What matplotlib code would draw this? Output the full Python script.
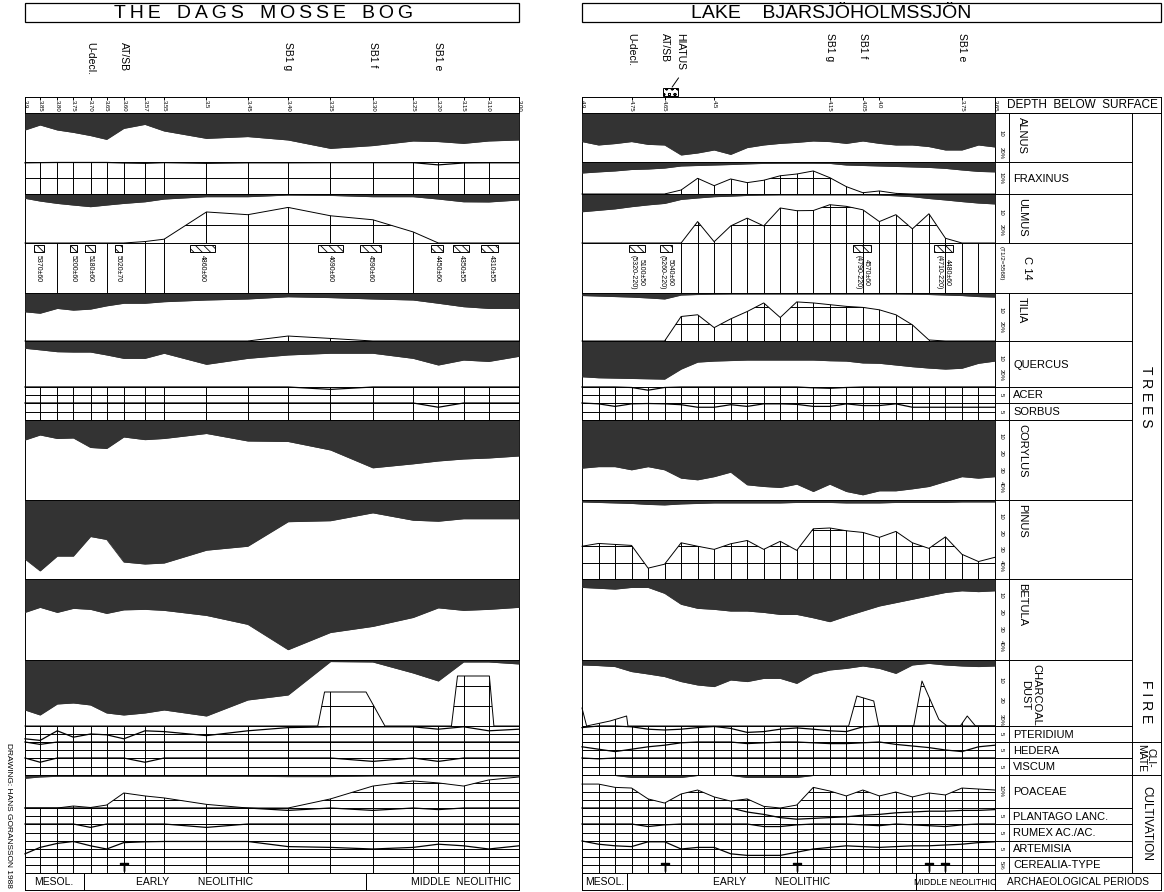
import numpy as np
import matplotlib
matplotlib.use('Agg')
import matplotlib.pyplot as plt
from matplotlib.patches import Rectangle, Polygon

plt.rcParams['font.family'] = ['Liberation Sans', 'DejaVu Sans']
plt.rcParams['hatch.linewidth'] = 0.6

# ---------------- Dags Mosse bog (left) ----------------
dm_depth = [3.90, 3.85, 3.80, 3.75, 3.70, 3.65, 3.60, 3.57, 3.55, 3.50,
            3.45, 3.40, 3.35, 3.30, 3.25, 3.20, 3.15, 3.10, 3.00]
dm_ticklabels = ['3.9', '3.85', '3.80', '3.75', '3.70', '3.65', '3.60', '3.57', '3.55', '3.5',
                 '3.45', '3.40', '3.35', '3.30', '3.25', '3.20', '3.15', '3.10', '3.00']
dm_alnus = [8.5, 6.0, 8.5, 9.7, 11.3, 13.2, 7.7, 5.7, 9.0, 12.7, 11.8, 13.5, 17.7, 16.3, 14.0, 14.3, 15.2, 14.0, 13.5]
dm_fraxinus = [0.5, 0.4, 0.3, 0.3, 0.3, 0.3, 0.6, 0.8, 0.4, 0.8, 0.5, 0.5, 0.4, 0.4, 0.4, 1.8, 0.6, 0.5, 0.5]
dm_ulmus = [2.4, 3.9, 5.2, 6.1, 7.0, 6.1, 5.2, 4.3, 2.8, 1.5, 1.5, 0.6, 0.8, 1.5, 1.5, 2.8, 4.3, 4.4, 3.3]
dm_ulmus_ex = [0, 0, 0, 0, 0, 0, 0, 0.8, 2.1, 17.1, 15.6, 19.6, 15.0, 12.8, 6.1, 0, 0, 0, 0]
dm_tilia = [11.0, 11.8, 9.0, 10.0, 9.4, 7.5, 6.0, 6.0, 5.1, 4.1, 3.5, 2.2, 2.7, 3.5, 4.1, 6.0, 8.0, 9.0, 9.0]
dm_tilia_ex = [0, 0, 0, 0, 0, 0, 0, 0, 0, 0, 0, 2.9, 1.5, 0, 0, 0, 0, 0, 0]
dm_quercus = [4.3, 5.2, 6.3, 6.5, 6.5, 8.2, 10.2, 10.2, 7.2, 13.7, 10.2, 8.2, 7.2, 7.2, 10.2, 14.1, 11.2, 12.0, 9.0]
dm_acer = [0, 0, 0, 0, 0, 0, 0, 0, 0, 0, 0, 0, 1.5, 0, 0, 0, 0, 0, 0]
dm_sorbus = [0, 0, 0, 0, 0, 0, 0, 0, 0, 0, 0, 0, 0, 0, 0, 2.5, 0, 0, 0]
dm_corylus = [12.0, 9.0, 11.1, 10.8, 16.5, 17.1, 10.2, 11.8, 11.1, 8.1, 12.6, 12.9, 18.0, 28.7, 26.3, 24.6, 23.4, 22.8, 21.6]
dm_pinus = [35.9, 43.1, 34.1, 34.1, 22.2, 24.0, 37.7, 38.9, 38.3, 30.5, 28.1, 13.2, 12.6, 7.8, 12.3, 12.9, 11.4, 11.4, 11.4]
dm_betula = [19.8, 16.8, 19.8, 17.4, 18.0, 20.4, 18.3, 18.0, 18.6, 21.6, 26.9, 41.9, 31.7, 28.1, 22.8, 17.1, 18.6, 18.0, 16.8]
dm_charcoal = [25, 27.5, 22, 21.5, 22.5, 26.5, 27.5, 26.5, 25, 28, 20, 17.5, 0.8, 1.0, 6.5, 10.5, 1.0, 1.0, 2.0]
dm_charcoal_ex_depth = [3.9, 3.365, 3.357, 3.308, 3.285, 3.174, 3.162, 3.098, 3.083, 3.0]
dm_charcoal_ex = [0, 0, 17, 17, 0, 0, 25, 25, 0, 0]
dm_pteridium = [8, 9, 3, 7, 5, 5.5, 8, 3, 3.5, 6, 3, 1, 0.5, 0.5, 0.5, 2, 0.5, 3, 2]
dm_hedera = [0, 1.5, 0, 0, 0, 0, 0, 0, 0, 0, 0, 0, 0, 0, 0, 0, 0, 0, 0]
dm_viscum = [0, 2.5, 0, 0, 0, 0, 0, 2.5, 0, 0, 0, 0, 0, 2.0, 0, 2.0, 0, 0, 0]
dm_poaceae = [2.0, 1.2, 0.8, 0.8, 0.8, 0.8, 0.8, 0.8, 0.8, 0.8, 0.8, 1.0, 1.0, 0.6, 0.6, 0.6, 0.6, 0.6, 0.6]
dm_poaceae_ex = [0, 0, 0, 1.2, 0.3, 1.8, 9.1, 7.3, 6.1, 2.2, 0, 0, 5.5, 13.3, 16.4, 15.2, 13.3, 17.0, 18.8]
dm_plantago = [0, 0, 0, 0, 0, 0, 0, 0, 0, 0, 0, 1.5, 0, 1.5, 0, 1.0, 0, 0, 0]
dm_rumex = [0, 0, 0, 0, 2, 0, 0, 0, 0, 2, 0, 0, 0, 0, 0, 0, 0, 0, 0]
dm_artemisia = [8, 4, 1.5, 0.3, 3, 5, 1, 0.5, 0.3, 0.3, 0.3, 3.5, 4, 5, 4, 2, 3, 5, 3]
dm_cerealia = [0, 0, 0, 0, 0, 0, 1, 0, 0, 0, 0, 0, 0, 0, 0, 0, 0, 0, 0]
dm_c14_lines = [3.80, 3.65, 3.57, 3.55, 3.45, 3.40, 3.25]
dm_c14 = [(3.87, 3.84, '5370±60'), (3.76, 3.74, '5200±60'), (3.715, 3.685, '5180±60'),
          (3.625, 3.605, '5020±70'), (3.52, 3.49, '4860±60'), (3.365, 3.335, '4690±60'),
          (3.315, 3.29, '4590±60'), (3.215, 3.19, '4450±60'), (3.17, 3.14, '4350±55'),
          (3.115, 3.07, '4310±55')]
dm_index = [('U-decl.', 3.70), ('AT/SB', 3.60), ('SB1 g', 3.40), ('SB1 f', 3.30), ('SB1 e', 3.20)]
dm_periods = [('MESOL.', 3.9, 3.72), ('EARLY          NEOLITHIC', 3.72, 3.308),
              ('MIDDLE  NEOLITHIC', 3.308, 3.0)]

# ---------------- Lake Bjärsjöholmssjön (right) ----------------
bj_depth = [4.90, 4.85, 4.80, 4.75, 4.70, 4.65, 4.60, 4.55, 4.50, 4.45, 4.40, 4.35, 4.30,
            4.25, 4.20, 4.15, 4.10, 4.05, 4.00, 3.95, 3.90, 3.85, 3.80, 3.75, 3.70, 3.65]
bj_ticks = [4.9, 4.75, 4.65, 4.5, 4.15, 4.05, 4.0, 3.75, 3.65]
bj_ticklabels = ['4.9', '4.75', '4.65', '4.5', '4.15', '4.05', '4.0', '3.75', '3.65']
bj_alnus = [14.3, 16, 15.3, 14.3, 15.7, 16, 21, 20, 18.5, 20.7, 17.3, 16, 15.2, 14.7, 14, 14.3,
            15.2, 14, 15.2, 16, 16, 16.8, 18.5, 18.5, 16, 17]
bj_fraxinus = [6.9, 6.2, 5.6, 4.7, 4.4, 3.8, 2.5, 2.2, 1.9, 1.6, 1.2, 0.9, 0.8, 0.8, 0.8, 0.9,
               1.9, 2.2, 2.5, 2.8, 3.1, 3.4, 4.0, 5.0, 5.9, 6.2]
bj_fraxinus_ex = [0, 0, 0, 0, 0, 0, 2.5, 9.8, 5.2, 9.4, 7.1, 8.6, 11.4, 12.5, 14.4, 10.2,
                  4.6, 0.8, 1.9, 0.4, 0, 0, 0, 0, 0, 0]
bj_ulmus = [9.8, 9, 8.2, 7, 6, 5.2, 3, 2.2, 1.5, 1.2, 0.8, 0.6, 0.5, 0.5, 0.5, 0.5, 0.5, 0.5,
            0.6, 1, 1.5, 2.5, 3.3, 4.2, 5, 5.5]
bj_ulmus_ex = [0, 0, 0, 0, 0, 0, 0, 11.8, 0.7, 9.4, 13.7, 9.4, 19.3, 17.8, 17.9, 21.1, 20.2,
               18.3, 11.8, 15.6, 7.8, 16.1, 2.6, 0, 0, 0]
bj_tilia = [1.5, 1.8, 2.1, 2.4, 2.9, 3.5, 1.2, 0.9, 0.7, 0.6, 0.6, 0.6, 0.6, 0.6, 0.6, 0.6,
            0.6, 0.6, 0.6, 0.6, 0.7, 0.9, 1.2, 1.5, 2.1, 2.4]
bj_tilia_ex = [0, 0, 0, 0, 0, 0, 14.3, 15.3, 7.8, 12.9, 17.2, 22.2, 13.7, 22.8, 22.2, 21.2,
               20.2, 19.6, 18.2, 15.3, 9.4, 0.6, 0, 0, 0, 0]
bj_quercus = [21, 21.6, 21.8, 22, 22.2, 22.4, 16.5, 12.4, 11.8, 11.5, 11.2, 11.2, 11.2, 11.2,
              11.2, 11.6, 11.8, 12.9, 13.1, 14.1, 15.1, 15.9, 16.5, 16, 13.1, 11.8]
bj_acer = [0, 0, 0, 0.3, 2, 0.3, 0, 0, 0, 0, 0, 0, 0, 0, 0.5, 0.8, 0.3, 0, 0, 0, 0, 0, 0, 0, 0, 0]
bj_sorbus = [0, 0.5, 2, 0.5, 0.3, 0.5, 1, 2.5, 2.5, 1, 2, 0.5, 0.5, 0.8, 2, 2, 0.5, 1.5, 1.5,
             0.5, 2.5, 2.5, 2.5, 2.5, 2.5, 2.5]
bj_corylus = [28.9, 28, 28, 29.9, 28, 29.9, 34.9, 35.9, 34, 31.3, 38.9, 39.9, 40.5, 38.5, 42.9,
              38.5, 42.9, 44.9, 42.5, 42.5, 41.3, 39.9, 36.9, 34, 34.9, 34]
bj_pinus = [1.2, 1.5, 1.8, 2.1, 2.7, 3, 2.4, 2.1, 1.8, 1.8, 1.8, 1.8, 1.8, 1.5, 1.5, 1.5, 1.8,
            1.8, 1.8, 1.5, 1.5, 1.5, 1.5, 1.2, 1.2, 1.2]
bj_pinus_ex = [19.9, 21.6, 21, 20.4, 6.6, 9, 22, 19.9, 18, 21.4, 23.4, 18, 22.9, 17.4, 30.5, 31,
               29.3, 28.3, 25.3, 28.9, 22, 18.6, 25.6, 15, 10.6, 13.2]
bj_betula = [5, 5.5, 6, 5, 5, 8.5, 15, 17.4, 18, 19, 19, 19.8, 21, 21, 23, 25.3, 22, 19, 16, 14,
             12, 10, 8, 7, 7.5, 7]
bj_charcoal = [2.5, 2.8, 3.3, 5.8, 7, 8.3, 10.8, 12.5, 13.3, 10, 10.8, 9.2, 9.2, 11.7, 7, 5, 4.2,
               3, 4.2, 6.7, 2.5, 1.7, 2.5, 3, 3.3, 3]
bj_charcoal_ex_depth = [4.9, 4.886, 4.815, 4.765, 4.761, 4.093, 4.068, 4.017, 4.002, 3.896,
                        3.871, 3.820, 3.795, 3.755, 3.734, 3.709, 3.65]
bj_charcoal_ex = [9, 0, 2.5, 5, 0, 0, 15, 12.5, 0, 0, 22.5, 3.3, 0, 0, 5, 0, 0]
bj_pteridium = [1, 0, 0, 0.5, 2, 2.5, 2, 1, 0.3, 1.5, 4, 3.5, 2, 1.2, 2, 3, 3.5, 0.5, 0, 0, 0,
                0, 0, 0, 0, 0]
bj_hedera = [3, 4.5, 6, 4.5, 3, 2, 0.5, 0, 0, 0, 1, 0.5, 0, 0, 0.5, 1, 1, 0.5, 0, 1.5, 2.5, 3.5,
             5, 6, 3, 2]
bj_viscum = [0, 0.5, 0, 0, 0, 0, 0, 0, 0, 0, 0, 0, 0, 0, 0, 0, 0, 0, 0, 0, 0, 0, 0, 0, 0, 0]
bj_poaceae = [0.3, 0.3, 0.3, 1.5, 1.5, 1.5, 1.5, 0.3, 0.3, 0.3, 1.5, 1.5, 1.5, 1.5, 0.3, 0.3,
              0.3, 0.3, 0.3, 0.3, 0.3, 0.3, 0.3, 0.3, 0.3, 0.3]
bj_poaceae_ex = [14.5, 14.5, 12.5, 12.1, 5.5, 3, 8.5, 10.9, 6.7, 4.2, 5.5, 1, 0, 1.8, 12.5, 10.3,
                 7.3, 10.9, 7.3, 9.7, 6.7, 9.1, 7.9, 12.1, 11.5, 10.9]
bj_plantago = [0, 0, 0, 0, 0, 0, 0, 0, 0, 0, 2.5, 4, 6, 7, 6.5, 6, 5.5, 4.5, 4, 3, 2.5, 2, 2,
               1.5, 1.5, 1]
bj_rumex = [0, 0, 0, 0, 1.5, 0.5, 0, 0, 0, 0, 0, 1.5, 1.5, 0.5, 0, 0, 0, 0.5, 1, 0, 0.5, 1, 1.5,
            0.5, 0, 0]
bj_artemisia = [0, 2, 3, 3.5, 0.5, 0.5, 5, 4, 4, 8, 9, 9, 9, 7, 5, 4, 3, 3.5, 4, 3.5, 3, 3, 2.5,
                2, 1, 0.5]
bj_cerealia = [0, 0, 0, 0, 0, 1, 0, 0, 0, 0, 0, 0, 0, 1, 0, 0, 0, 0, 0, 0, 0, 1, 1, 0, 0, 0]
bj_c14_lines = bj_depth[6:25]
bj_c14 = [(4.758, 4.709, '5100±50\n(5320-220)'), (4.664, 4.627, '5040±60\n(5260-220)'),
          (4.079, 4.024, '4570±60\n(4790-220)'), (3.836, 3.776, '4480±60\n(4710-220)')]
bj_index = [('U-decl.', 4.75), ('AT/SB', 4.65), ('SB1 g', 4.15), ('SB1 f', 4.05), ('SB1 e', 3.75)]
bj_periods = [('MESOL.', 4.9, 4.764), ('EARLY          NEOLITHIC', 4.764, 3.888),
              ('MIDDLE NEOLITHIC', 3.888, 3.65)]

# ---------------- figure ----------------
W, H = 1164, 892
fig = plt.figure(figsize=(W / 100, H / 100), dpi=100)
INK = '#333333'
LW = 0.7

ov = fig.add_axes([0, 0, 1, 1])
ov.set_xlim(0, W)
ov.set_ylim(H, 0)
ov.set_axis_off()

# the Dags Mosse axis is drawn with uneven spacing between samples
dm_axis_px = np.array([27, 42, 59, 75, 92, 108, 125, 146, 165, 207, 248, 288, 330, 372, 412,
                       437, 462, 487, 517], float)
dm_d = np.asarray(dm_depth, float)


def dm_fwd(d):
    # increasing with depth, so that an inverted xlim puts 3.9 on the left
    return -np.interp(d, dm_d[::-1], dm_axis_px[::-1])


def dm_inv(u):
    return np.interp(-np.asarray(u, float), dm_axis_px, dm_d)


PANEL_X = {'dm': (25, 519), 'bj': (582, 995)}


def depth_axes(panel, y0, y1):
    x0, x1 = PANEL_X[panel]
    ax = fig.add_axes([x0 / W, 1 - y1 / H, (x1 - x0) / W, (y1 - y0) / H])
    if panel == 'dm':
        ax.set_xscale('function', functions=(dm_fwd, dm_inv))
        ax.set_xlim(3.9, 3.0)
    else:
        ax.set_xlim(4.9, 3.65)
    ax.set_axis_off()
    return ax


ROWS = [('alnus', 113, 162, 24.5), ('fraxinus', 162, 194, 20), ('ulmus', 194, 243, 27),
        ('c14', 243, 293, 50), ('tilia', 293, 341, 28), ('quercus', 341, 387, 27),
        ('acer', 387, 403, 10), ('sorbus', 403, 420, 10), ('corylus', 420, 500, 48),
        ('pinus', 500, 579, 48), ('betula', 579, 660, 48), ('charcoal', 660, 726, 33),
        ('pteridium', 726, 742, 10), ('hedera', 742, 758, 10), ('viscum', 758, 775, 10),
        ('poaceae', 775, 808, 20), ('plantago', 808, 824, 10), ('rumex', 824, 841, 10),
        ('artemisia', 841, 857, 10), ('cerealia', 857, 873, 10)]
THIN = {'acer', 'sorbus', 'pteridium', 'hedera', 'viscum', 'plantago', 'rumex', 'artemisia', 'cerealia'}
GRID = {'fraxinus': [10], 'ulmus': [10, 20], 'tilia': [10, 20], 'pinus': [10, 20, 30],
        'charcoal': [10, 20], 'poaceae': [5, 10, 15]}

panels = {
    'dm': dict(depth=dm_depth, alnus=dm_alnus, fraxinus=dm_fraxinus, ulmus=dm_ulmus,
               ulmus_ex=dm_ulmus_ex, tilia=dm_tilia, tilia_ex=dm_tilia_ex, quercus=dm_quercus,
               acer=dm_acer, sorbus=dm_sorbus, corylus=dm_corylus, pinus=dm_pinus,
               betula=dm_betula, charcoal=dm_charcoal, charcoal_ex=dm_charcoal_ex,
               charcoal_ex_depth=dm_charcoal_ex_depth,
               pteridium=dm_pteridium, hedera=dm_hedera, viscum=dm_viscum, poaceae=dm_poaceae,
               poaceae_ex=dm_poaceae_ex, plantago=dm_plantago, rumex=dm_rumex,
               artemisia=dm_artemisia, cerealia=dm_cerealia, c14=dm_c14, c14_lines=dm_c14_lines,
               grid_rows=THIN | {'fraxinus'}),
    'bj': dict(depth=bj_depth, alnus=bj_alnus, fraxinus=bj_fraxinus, fraxinus_ex=bj_fraxinus_ex,
               ulmus=bj_ulmus, ulmus_ex=bj_ulmus_ex, tilia=bj_tilia, tilia_ex=bj_tilia_ex,
               quercus=bj_quercus, acer=bj_acer, sorbus=bj_sorbus, corylus=bj_corylus,
               pinus=bj_pinus, pinus_ex=bj_pinus_ex, betula=bj_betula, charcoal=bj_charcoal,
               charcoal_ex=bj_charcoal_ex, charcoal_ex_depth=bj_charcoal_ex_depth,
               pteridium=bj_pteridium, hedera=bj_hedera,
               viscum=bj_viscum, poaceae=bj_poaceae, poaceae_ex=bj_poaceae_ex,
               plantago=bj_plantago, rumex=bj_rumex, artemisia=bj_artemisia,
               cerealia=bj_cerealia, c14=bj_c14, c14_lines=bj_c14_lines, grid_rows=THIN),
}


def fill_row(ax, x, v, pmax, ex=None, xe=None, grid=()):
    ax.set_ylim(pmax, 0)
    ax.fill_between(x, 0, v, color=INK, lw=0)
    ax.plot(x, v, color=INK, lw=0.6)
    ax.axhline(0, color='k', lw=LW, clip_on=False)
    if ex is None:
        return
    xe = x if xe is None else np.asarray(xe, float)
    ex = np.asarray(ex, float)
    yb = pmax - ex
    ax.plot(xe, yb, color='k', lw=LW, clip_on=False)
    poly = Polygon(np.column_stack([np.r_[xe[0], xe, xe[-1]], np.r_[pmax, yb, pmax]]),
                   closed=True, fc='none', ec='none')
    ax.add_patch(poly)
    # sample lines and % levels show only inside the outline
    vl = ax.vlines(x, 0, pmax, color='k', lw=LW)
    vl.set_clip_path(poly)
    for g in grid:
        ln = ax.axhline(pmax - g, color='k', lw=LW)
        ln.set_clip_path(poly)


def grid_row(ax, x, v, pmax, key):
    ax.set_ylim(pmax, 0)
    ax.vlines(x, 0, pmax, color='k', lw=LW)
    for g in (0, pmax / 2, pmax):
        ax.axhline(g, color='k', lw=LW, clip_on=False)
    v = np.asarray(v, float)
    if key == 'cerealia':
        m = v > 0
        ax.plot(x[m], np.full(m.sum(), pmax * 0.6), ls='none', marker='$\\top$',
                ms=6, color='k')
    else:
        ax.plot(x, v, color='k', lw=0.9, clip_on=False)


def c14_row(ax, lines, boxes, pmax):
    ax.set_ylim(pmax, 0)
    ax.axhline(0, color='k', lw=LW, clip_on=False)
    ax.vlines(lines, 0, pmax, color='k', lw=LW)
    for d0, d1, lab in boxes:
        ax.add_patch(Rectangle((d1, 2), d0 - d1, 7, fill=False, hatch='\\\\\\\\', lw=LW))
        ax.text((d0 + d1) / 2, 12, lab, rotation=-90, ha='center', va='top',
                fontsize=5, linespacing=1.3)


for pk, pdata in panels.items():
    x = np.asarray(pdata['depth'], float)
    for key, y0, y1, pmax in ROWS:
        ax = depth_axes(pk, y0, y1)
        if key == 'c14':
            c14_row(ax, pdata['c14_lines'], pdata['c14'], pmax)
        elif key in pdata['grid_rows']:
            grid_row(ax, x, pdata[key], pmax, key)
        else:
            fill_row(ax, x, pdata[key], pmax, pdata.get(key + '_ex'),
                     pdata.get(key + '_ex_depth'), GRID.get(key, ()))

    # header: depth ticks and index horizons
    hx = depth_axes(pk, 25, 113)
    hx.set_ylim(113, 25)
    hx.axhline(97, color='k', lw=LW, clip_on=False)
    if pk == 'dm':
        ticks, tlabs, index = dm_depth, dm_ticklabels, dm_index
        ytop = 42
    else:
        ticks, tlabs, index = bj_ticks, bj_ticklabels, bj_index
        ytop = 33
    hx.vlines(ticks, 97, 100, color='k', lw=LW)
    for t, lab in zip(ticks, tlabs):
        hx.text(t, 100.5, lab, rotation=-90, ha='center', va='top', fontsize=4.3)
    for lab, d in index:
        hx.text(d, ytop, lab, rotation=-90, ha='center', va='top', fontsize=7.5)
    if pk == 'bj':
        hx.text(4.603, 33, 'HIATUS', rotation=-90, ha='center', va='top', fontsize=7.5)
        hx.plot([4.608, 4.627], [78, 87], color='k', lw=0.7)
        hx.add_patch(Rectangle((4.61, 88), 0.045, 8, fill=False, hatch='ooo', lw=0.7))

    # archaeological periods
    bx = depth_axes(pk, 873, 890)
    bx.set_ylim(1, 0)
    bx.axhline(0, color='k', lw=LW, clip_on=False)
    bx.axhline(1, color='k', lw=LW, clip_on=False)
    periods = dm_periods if pk == 'dm' else bj_periods
    for lab, d0, d1 in periods:
        bx.vlines([d0, d1], 0, 1, color='k', lw=LW, clip_on=False)
        fs = 6.3 if lab == 'MIDDLE NEOLITHIC' else 7.5
        bx.text((d0 + d1) / 2, 0.55, lab, ha='center', va='center', fontsize=fs)

# ---------------- frame, titles and label columns ----------------
for x0, x1 in [(25, 519), (582, 1161)]:
    ov.add_patch(Rectangle((x0, 3), x1 - x0, 19, fill=False, lw=0.9))
title_left = '   '.join('\u2009'.join(w) for w in ['THE', 'DAGS', 'MOSSE', 'BOG'])
ov.text(264, 13, title_left, ha='center', va='center', fontsize=14)
ov.text(831, 13, 'LAKE    BJÄRSJÖHOLMSSJÖN', ha='center', va='center', fontsize=14)

for xv in (25, 519, 582, 995, 1161):
    ov.plot([xv, xv], [97, 890], color='k', lw=LW)
ov.plot([995, 1161], [97, 97], color='k', lw=LW)
ov.plot([995, 1161], [113, 113], color='k', lw=LW)
ov.plot([1009, 1009], [113, 243], color='k', lw=LW)
ov.plot([1009, 1009], [293, 873], color='k', lw=LW)
ov.plot([1132, 1132], [113, 873], color='k', lw=LW)
for key, y0, y1, pmax in ROWS:
    ov.plot([995, 1132], [y0, y0], color='k', lw=LW)
for yv in (742, 775, 873):
    ov.plot([1132, 1161], [yv, yv], color='k', lw=LW)
ov.plot([995, 1161], [873, 873], color='k', lw=LW)
ov.plot([995, 1161], [890, 890], color='k', lw=LW)

ov.text(1082, 105.5, 'DEPTH  BELOW  SURFACE', ha='center', va='center', fontsize=8.5)
ov.text(1078, 882, 'ARCHAEOLOGICAL PERIODS', ha='center', va='center', fontsize=7.3)
ov.text(1001, 246, '(T1/2=5568)', rotation=-90, ha='center', va='top', fontsize=4.5)

NAMES = {'alnus': ('ALNUS', 'v'), 'fraxinus': ('FRAXINUS', 'h'), 'ulmus': ('ULMUS', 'v'),
         'c14': ('C 14', 'v'), 'tilia': ('TILIA', 'v'), 'quercus': ('QUERCUS', 'h'),
         'acer': ('ACER', 'h'), 'sorbus': ('SORBUS', 'h'), 'corylus': ('CORYLUS', 'v'),
         'pinus': ('PINUS', 'v'), 'betula': ('BETULA', 'v'), 'charcoal': ('CHARCOAL\nDUST', 'v'),
         'pteridium': ('PTERIDIUM', 'h'), 'hedera': ('HEDERA', 'h'), 'viscum': ('VISCUM', 'h'),
         'poaceae': ('POACEAE', 'h'), 'plantago': ('PLANTAGO LANC.', 'h'),
         'rumex': ('RUMEX AC./AC.', 'h'), 'artemisia': ('ARTEMISIA', 'h'),
         'cerealia': ('CEREALIA-TYPE', 'h')}
SCALE = {'alnus': [(10, '10'), (20, '20%')], 'fraxinus': [(10, '10%')],
         'ulmus': [(10, '10'), (20, '20%')], 'tilia': [(10, '10'), (20, '20%')],
         'quercus': [(10, '10'), (20, '20%')],
         'corylus': [(10, '10'), (20, '20'), (30, '30'), (40, '40%')],
         'pinus': [(10, '10'), (20, '20'), (30, '30'), (40, '40%')],
         'betula': [(10, '10'), (20, '20'), (30, '30'), (40, '40%')],
         'charcoal': [(10, '10'), (20, '20'), (30, '30%')], 'poaceae': [(10, '10%')],
         'cerealia': [(5, '5%')]}

for key, y0, y1, pmax in ROWS:
    name, orient = NAMES[key]
    if orient == 'h':
        ov.text(1013, (y0 + y1) / 2 + 0.5, name, ha='left', va='center', fontsize=8)
    elif key == 'c14':
        ov.text(1027, (y0 + y1) / 2, name, rotation=-90, ha='center', va='center', fontsize=8)
    else:
        ov.text(1022 if key != 'charcoal' else 1031, y0 + 4, name, rotation=-90, ha='center',
                va='top', fontsize=8, linespacing=1.1)
    if key == 'c14':
        continue
    # scale numbers follow each row's own % scale
    sax = fig.add_axes([995 / W, 1 - y1 / H, 14 / W, (y1 - y0) / H])
    sax.set_xlim(0, 1)
    sax.set_ylim(pmax, 0)
    sax.set_axis_off()
    for val, lab in SCALE.get(key, [(5, '5')]):
        sax.text(0.45, val, lab, rotation=-90, ha='center', va='center', fontsize=4.3)

ov.text(1146, 397, 'T R E E S', rotation=-90, ha='center', va='center', fontsize=10)
ov.text(1146, 702, 'F I R E', rotation=-90, ha='center', va='center', fontsize=10)
ov.text(1146, 758, 'CLI-\nMATE', rotation=-90, ha='center', va='center', fontsize=7.5,
        linespacing=0.95)
ov.text(1146, 824, 'CULTIVATION', rotation=-90, ha='center', va='center', fontsize=8.5)

ov.text(8, 815, 'DRAWING: HANS GORANSSON 1988', rotation=-90, ha='center', va='center',
        fontsize=6)

fig.savefig('out.png', dpi=100, facecolor='white')
